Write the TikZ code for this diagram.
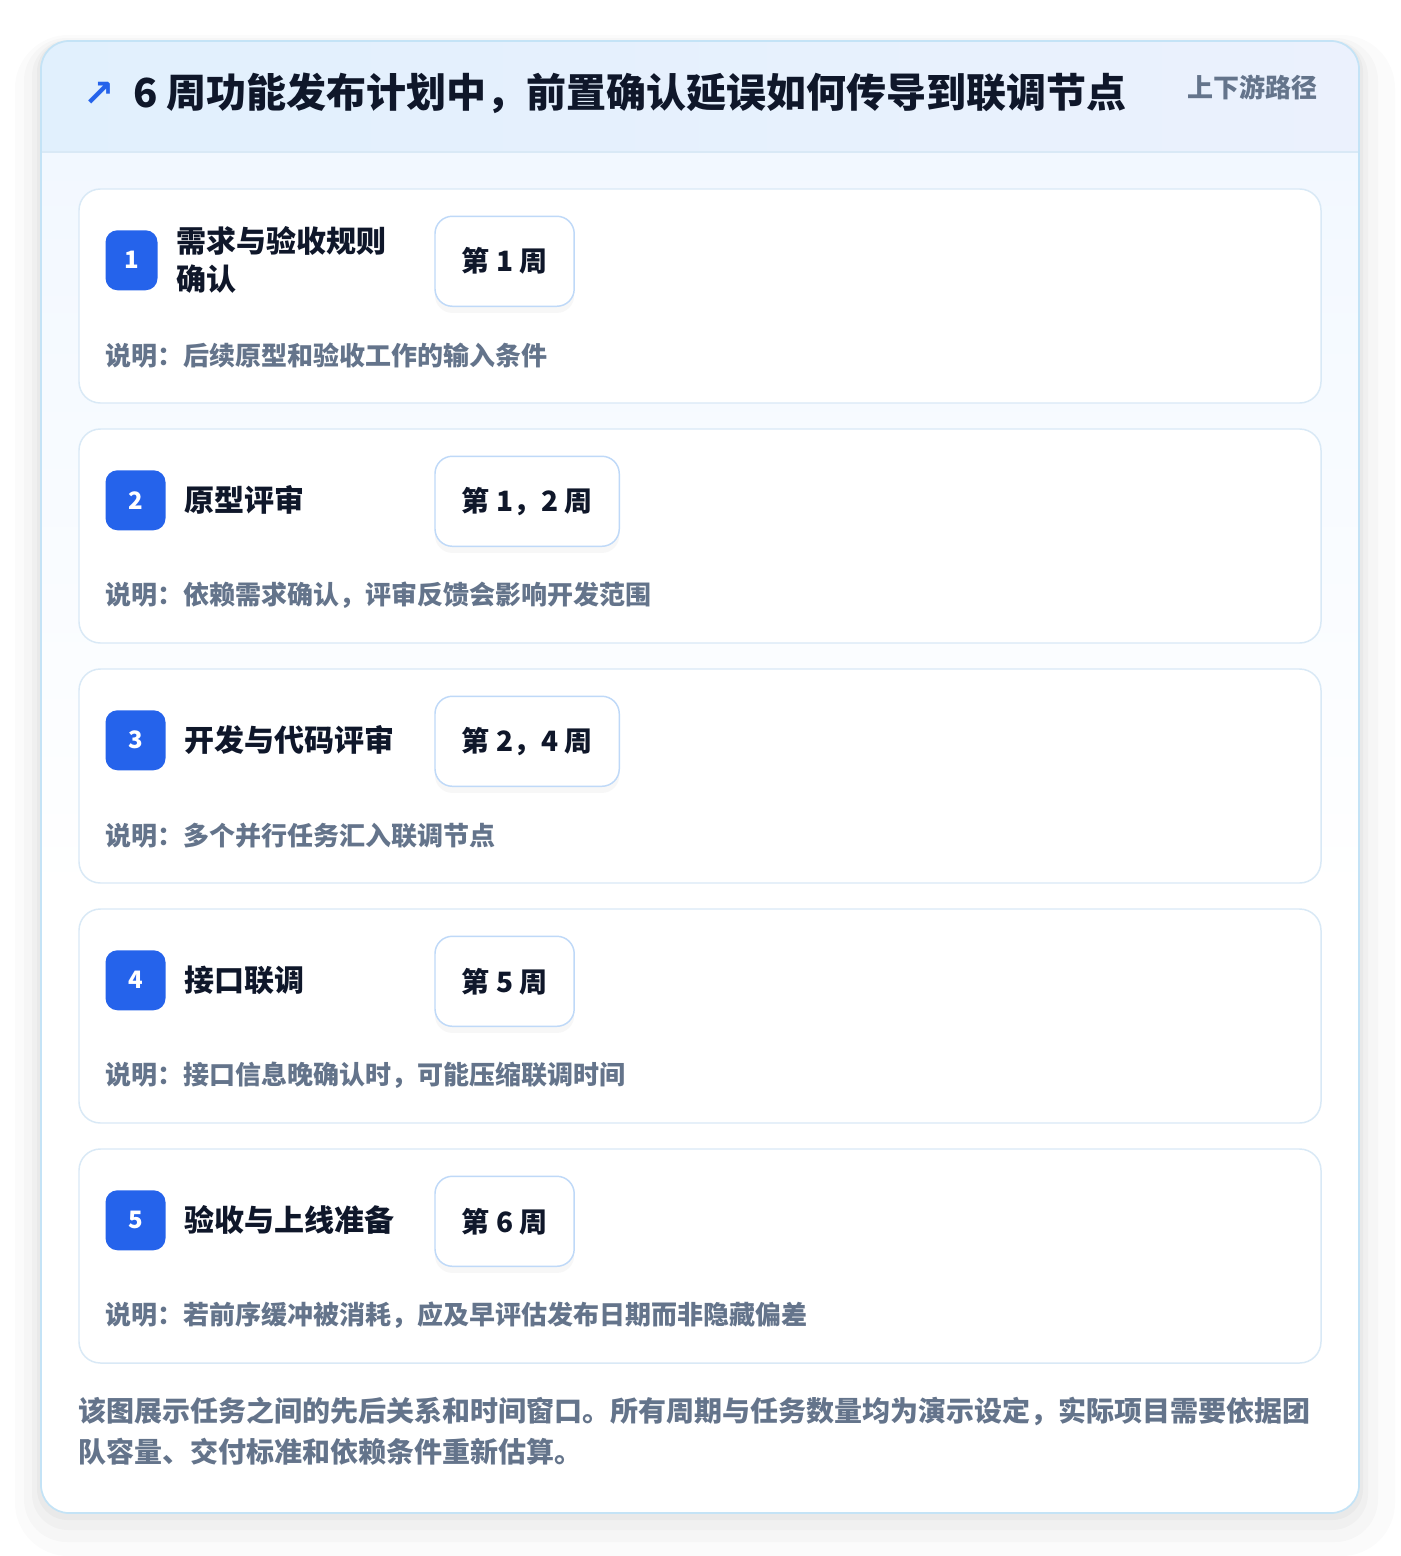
\documentclass[tikz,border=0pt]{standalone}
\usepackage{fontspec}
\setmainfont{Noto Sans CJK SC}
\newfontfamily\symfont{DejaVu Sans}
\usetikzlibrary{calc}
\usetikzlibrary{positioning}
\usetikzlibrary{shadows}
\definecolor{brand}{HTML}{2563EB}
\definecolor{ink}{HTML}{0F172A}
\definecolor{muted}{HTML}{64748B}
\definecolor{frameline}{HTML}{C4E3F6}
\definecolor{cardline}{HTML}{D9E9F6}
\definecolor{pillline}{HTML}{BFD9F8}
\definecolor{headleft}{HTML}{E1F0FD}
\definecolor{headright}{HTML}{EBF1FD}
\definecolor{bodytop}{HTML}{F2F8FF}

\begin{document}
\begin{tikzpicture}[
        x=0.75pt, y=-0.75pt,
        every node/.style={inner sep=0pt, node distance=10pt},
        card/.style={rectangle, rounded corners=16pt, draw=cardline, line width=1.1pt, fill=white, minimum width=931.5pt, minimum height=160.5pt},
        badge/.style={rectangle, rounded corners=9pt, fill=brand, text=white, minimum width=45pt, minimum height=45pt, font=\fontsize{18}{18}\selectfont\bfseries, anchor=west},
        task/.style={text=ink, align=left, font=\fontsize{22.5}{28.5}\selectfont\bfseries},
        week/.style={rectangle, rounded corners=13pt, draw=pillline, line width=1.1pt, fill=white, minimum height=67.5pt, inner xsep=20pt, text=ink, font=\fontsize{21}{21}\selectfont\bfseries, anchor=west, drop shadow={opacity=0.06, shadow xshift=0pt, shadow yshift=-5pt}},
        note/.style={text=muted, anchor=west, font=\fontsize{19.5}{19.5}\selectfont\bfseries},
    ]

    \useasboundingbox (0,0) rectangle (1400,1556);

    % soft shadow of the frame
    \fill[black, opacity=0.015, rounded corners=40pt] (15,35) rectangle (1395,1556);
    \fill[black, opacity=0.02, rounded corners=32pt] (24,38) rectangle (1378,1542);
    \fill[black, opacity=0.024, rounded corners=27pt] (32,40) rectangle (1368,1530);
    \fill[black, opacity=0.028, rounded corners=23pt] (37,41) rectangle (1363,1520);

    % frame, header and body
    \fill[white, rounded corners=21pt] (41,41) rectangle (1359,1513);
    \begin{scope}
        \clip[rounded corners=21pt] (41,41) rectangle (1359,1513);
        \shade[left color=headleft, right color=headright] (41,41) rectangle (1359,152);
        \shade[top color=bodytop, bottom color=white] (41,152) rectangle (1359,900);
        \draw[cardline, line width=1.1pt] (41,152) -- (1359,152);
    \end{scope}
    \draw[frameline, line width=1.3pt, rounded corners=21pt] (41,41) rectangle (1359,1513);

    \node[text=brand, font=\fontsize{28}{28}\selectfont\symfont\bfseries] (hdarrow) at (99,94) {↗};
    \node[text=ink, anchor=west, font=\fontsize{30}{30}\selectfont\bfseries] (hdtitle) at (133,93) {6 周功能发布计划中，前置确认延误如何传导到联调节点};
    \node[text=muted, anchor=east, font=\fontsize{19.5}{19.5}\selectfont\bfseries] (hdtag) at (1318,87) {上下游路径};

    \node[card]      (C1)      at (700,296)  {};
    \node[card]      (C2)      at (700,536)  {};
    \node[card]      (C3)      at (700,776)  {};
    \node[card]      (C4)      at (700,1016) {};
    \node[card]      (C5)      at (700,1256) {};

    \node[badge, minimum width=39pt] (B1) at ($(C1.north west)+(27,72)$) {1};
    \node[badge]     (B2)      at ($(C2.north west)+(27,72)$) {2};
    \node[badge]     (B3)      at ($(C3.north west)+(27,72)$) {3};
    \node[badge]     (B4)      at ($(C4.north west)+(27,72)$) {4};
    \node[badge]     (B5)      at ($(C5.north west)+(27,72)$) {5};

    \node[task]      (T1)      [right=13.5pt of B1] {需求与验收规则\\确认};
    \node[task]      (T2)      [right=13.5pt of B2] {原型评审};
    \node[task]      (T3)      [right=13.5pt of B3] {开发与代码评审};
    \node[task]      (T4)      [right=13.5pt of B4] {接口联调};
    \node[task]      (T5)      [right=13.5pt of B5] {验收与上线准备};

    \node[week]      (W1)      at ($(C1.north west)+(356,73)$) {第 1 周};
    \node[week]      (W2)      at ($(C2.north west)+(356,73)$) {第 1，2 周};
    \node[week]      (W3)      at ($(C3.north west)+(356,73)$) {第 2，4 周};
    \node[week]      (W4)      at ($(C4.north west)+(356,73)$) {第 5 周};
    \node[week]      (W5)      at ($(C5.north west)+(356,73)$) {第 6 周};

    \node[note]      (N1)      at ($(C1.north west)+(27,167)$) {说明：后续原型和验收工作的输入条件};
    \node[note]      (N2)      at ($(C2.north west)+(27,167)$) {说明：依赖需求确认，评审反馈会影响开发范围};
    \node[note]      (N3)      at ($(C3.north west)+(27,167)$) {说明：多个并行任务汇入联调节点};
    \node[note]      (N4)      at ($(C4.north west)+(27,167)$) {说明：接口信息晚确认时，可能压缩联调时间};
    \node[note]      (N5)      at ($(C5.north west)+(27,167)$) {说明：若前序缓冲被消耗，应及早评估发布日期而非隐藏偏差};

    \node[text=muted, anchor=west, align=left, font=\fontsize{21}{30.75}\selectfont\bfseries] (foot) at (78,1431.5) {该图展示任务之间的先后关系和时间窗口。所有周期与任务数量均为演示设定，实际项目需要依据团\\队容量、交付标准和依赖条件重新估算。};
\end{tikzpicture}
\end{document}
